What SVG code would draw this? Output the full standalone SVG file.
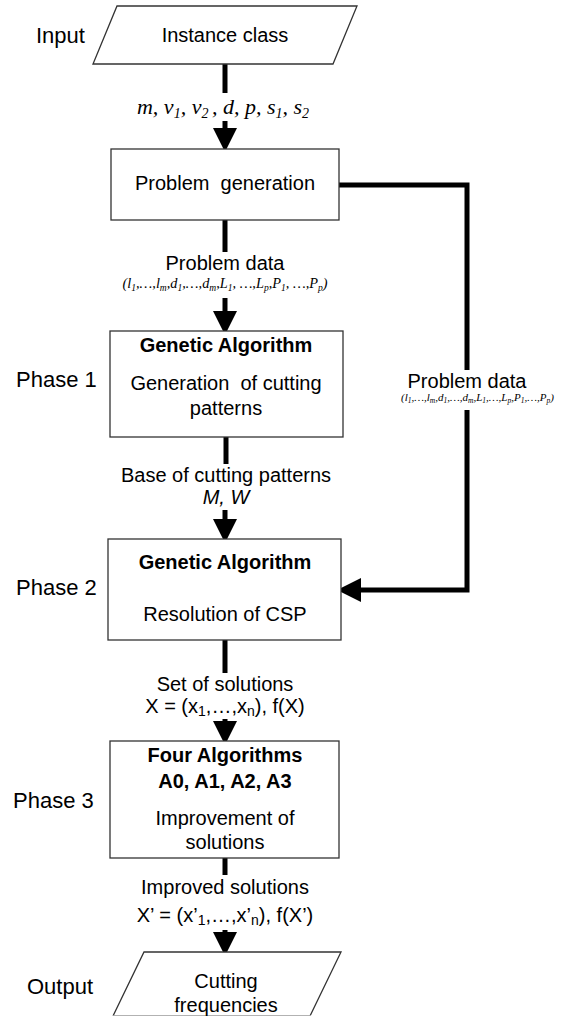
<svg xmlns="http://www.w3.org/2000/svg" width="566" height="1016" viewBox="0 0 566 1016">
<style>
.box{fill:#fff;stroke:#333;stroke-width:1.3}
.t{font-family:"Liberation Sans",Arial,sans-serif;font-size:20px;fill:#000;text-anchor:middle}
.b{font-weight:bold}
.side{font-family:"Liberation Sans",Arial,sans-serif;font-size:22px;fill:#000}
.m{font-family:"Liberation Serif","Times New Roman",serif;font-style:italic;fill:#000;text-anchor:middle}
.c{fill:none;stroke:#000;stroke-width:5}
</style>
<defs>
<marker id="ah" viewBox="0 0 24 24" refX="10" refY="12" markerWidth="24" markerHeight="24" markerUnits="userSpaceOnUse" orient="auto">
<path d="M0,0 L24,12 L0,24 z" fill="#000"/>
</marker>
</defs>
<rect width="566" height="1016" fill="#fff"/>

<g id="connectors">
<line class="c" x1="225" y1="64" x2="225" y2="93"/>
<line class="c" x1="225" y1="121" x2="225" y2="138" marker-end="url(#ah)"/>
<line class="c" x1="225" y1="220" x2="225" y2="252"/>
<line class="c" x1="225" y1="298" x2="225" y2="321" marker-end="url(#ah)"/>
<line class="c" x1="226" y1="437" x2="226" y2="464"/>
<line class="c" x1="225" y1="510" x2="225" y2="529" marker-end="url(#ah)"/>
<line class="c" x1="225" y1="640" x2="225" y2="673"/>
<line class="c" x1="225" y1="719" x2="225" y2="731" marker-end="url(#ah)"/>
<line class="c" x1="225" y1="858" x2="225" y2="875"/>
<line class="c" x1="225" y1="930" x2="225" y2="942" marker-end="url(#ah)"/>
<polyline class="c" points="339,185 467,185 467,370"/>
<polyline class="c" points="467,410 467,590 351,590" marker-end="url(#ah)"/>
<text class="t" x="467" y="388">Problem data</text>
<text class="m" x="401" y="401" font-size="11" style="text-anchor:start">(l<tspan font-size="7.5" dy="2">1</tspan><tspan dy="-2">,…,l</tspan><tspan font-size="7.5" dy="2">m</tspan><tspan dy="-2">,d</tspan><tspan font-size="7.5" dy="2">1</tspan><tspan dy="-2">,…,d</tspan><tspan font-size="7.5" dy="2">m</tspan><tspan dy="-2">,L</tspan><tspan font-size="7.5" dy="2">1</tspan><tspan dy="-2">,…,L</tspan><tspan font-size="7.5" dy="2">p</tspan><tspan dy="-2">,P</tspan><tspan font-size="7.5" dy="2">1</tspan><tspan dy="-2">,…,P</tspan><tspan font-size="7.5" dy="2">p</tspan><tspan dy="-2">)</tspan></text>
<text class="m" x="223" y="114" font-size="22">m, v<tspan font-size="14" dy="4">1</tspan><tspan dy="-4">, v</tspan><tspan font-size="14" dy="4">2 </tspan><tspan dy="-4">, d, p, s</tspan><tspan font-size="14" dy="4">1</tspan><tspan dy="-4">, s</tspan><tspan font-size="14" dy="4">2</tspan></text>
<text class="t" x="225" y="270">Problem data</text>
<text class="m" x="225" y="288" font-size="15" textLength="205" lengthAdjust="spacingAndGlyphs">(l<tspan font-size="10" dy="3">1</tspan><tspan dy="-3">,…,l</tspan><tspan font-size="10" dy="3">m</tspan><tspan dy="-3">,d</tspan><tspan font-size="10" dy="3">1</tspan><tspan dy="-3">,…,d</tspan><tspan font-size="10" dy="3">m</tspan><tspan dy="-3">,L</tspan><tspan font-size="10" dy="3">1</tspan><tspan dy="-3">, …,L</tspan><tspan font-size="10" dy="3">p</tspan><tspan dy="-3">,P</tspan><tspan font-size="10" dy="3">1</tspan><tspan dy="-3">, …,P</tspan><tspan font-size="10" dy="3">p</tspan><tspan dy="-3">)</tspan></text>
<text class="t" x="226" y="482">Base of cutting patterns</text>
<text class="t" x="226" y="504" font-style="italic">M, W</text>
<text class="t" x="225" y="691">Set of solutions</text>
<text class="t" x="225" y="713">X = (x<tspan font-size="14" dy="3">1</tspan><tspan dy="-3">,…,x</tspan><tspan font-size="14" dy="3">n</tspan><tspan dy="-3">), f(X)</tspan></text>
<text class="t" x="225" y="894">Improved solutions</text>
<text class="t" x="225" y="922">X’ = (x’<tspan font-size="14" dy="3">1</tspan><tspan dy="-3">,…,x’</tspan><tspan font-size="14" dy="3">n</tspan><tspan dy="-3">), f(X’)</tspan></text>
</g>

<g id="input">
<polygon class="box" points="117,6 357,6 333,64 93,64"/>
<text class="t" x="225" y="42">Instance class</text>
<text class="side" x="36" y="43">Input</text>
</g>

<g id="problem-generation">
<rect class="box" x="111" y="149" width="228" height="71"/>
<text class="t" x="225" y="190" xml:space="preserve">Problem  generation</text>
</g>

<g id="phase1">
<rect class="box" x="110" y="331" width="233" height="106"/>
<text class="t b" x="226" y="352">Genetic Algorithm</text>
<text class="t" x="226" y="390" xml:space="preserve">Generation  of cutting</text>
<text class="t" x="226" y="415">patterns</text>
<text class="side" x="16" y="387">Phase 1</text>
</g>

<g id="phase2">
<rect class="box" x="108" y="539" width="233" height="101"/>
<text class="t b" x="225" y="569">Genetic Algorithm</text>
<text class="t" x="225" y="621">Resolution of CSP</text>
<text class="side" x="16" y="595">Phase 2</text>
</g>

<g id="phase3">
<rect class="box" x="110" y="741" width="229" height="117"/>
<text class="t b" x="225" y="762">Four Algorithms</text>
<text class="t b" x="225" y="788">A0, A1, A2, A3</text>
<text class="t" x="225" y="825">Improvement of</text>
<text class="t" x="225" y="849">solutions</text>
<text class="side" x="13" y="808">Phase 3</text>
</g>

<g id="output">
<polygon class="box" points="144,952 341,952 310,1016 113,1016" />
<line x1="100" y1="1016.5" x2="350" y2="1016.5" stroke="#fff" stroke-width="2"/>
<text class="t" x="226" y="988">Cutting</text>
<text class="t" x="226" y="1012">frequencies</text>
<text class="side" x="27" y="994">Output</text>
</g>
</svg>
